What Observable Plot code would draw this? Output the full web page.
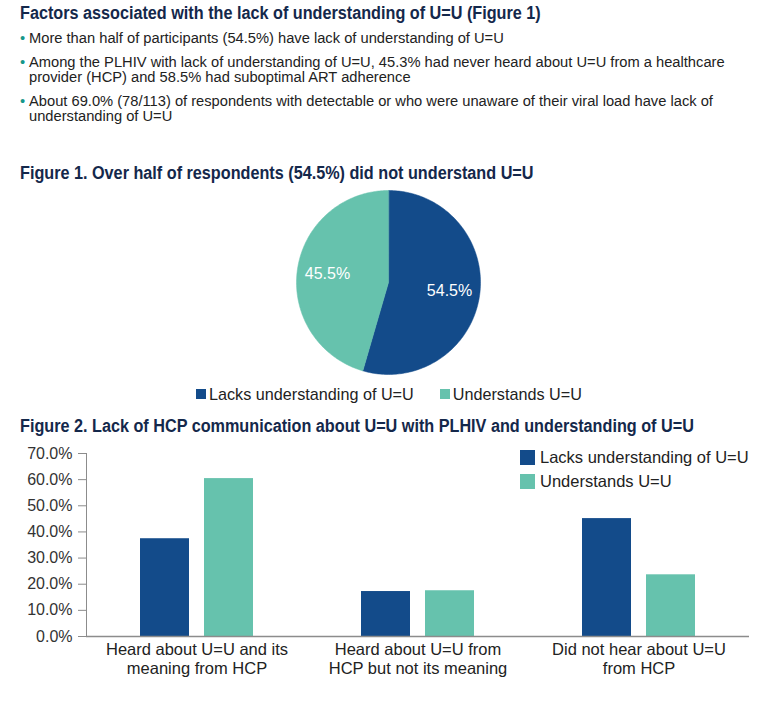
<!DOCTYPE html>
<html>
<head>
<meta charset="utf-8">
<script src="https://cdn.jsdelivr.net/npm/d3@7"></script>
<script src="https://cdn.jsdelivr.net/npm/@observablehq/plot@0.6"></script>
<style>
  html, body { margin: 0; padding: 0; background: #fff; }
  #root { position: relative; width: 780px; height: 705px; overflow: hidden; font-family: "Liberation Sans", Arial, sans-serif; }
  .title { position: absolute; left: 20px; font-weight: bold; color: #14284b; font-size: 18px; white-space: nowrap; line-height: 20px; transform: scaleX(0.9); transform-origin: 0 50%; }
  .bullets { position: absolute; left: 20px; top: 30.5px; width: 760px; color: #222; font-size: 14.7px; line-height: 15px; }
  .bullet { position: relative; padding-left: 9px; margin-bottom: 9px; white-space: pre; }
  .bullet::before { content: "•"; position: absolute; left: 0; top: 0; color: #16978a; }
  .abs { position: absolute; }
  .legend { position: absolute; font-size: 16.5px; color: #222; white-space: nowrap; display: flex; align-items: center; }
  .sw { display: inline-block; }
</style>
</head>
<body>
<div id="root">
  <div class="title" style="top:3px">Factors associated with the lack of understanding of U=U (Figure 1)</div>
  <div class="bullets" id="bullets"></div>
  <div class="title" style="top:163px">Figure 1. Over half of respondents (54.5%) did not understand U=U</div>
  <div class="abs" id="pie" style="left:287.5px; top:182px"></div>
  <div class="legend" id="pieLegend" style="left:196px; top:384px; height:20px; font-size:16.2px"></div>
  <div class="title" style="top:416px">Figure 2. Lack of HCP communication about U=U with PLHIV and understanding of U=U</div>
  <div class="abs" id="bars" style="left:0; top:440px"></div>
  <div class="legend" id="barLegend" style="left:520px; top:445px; flex-direction:column; align-items:flex-start"></div>
</div>
<script>
// ---------- data ----------
const bulletTexts = [
  "More than half of participants (54.5%) have lack of understanding of U=U",
  "Among the PLHIV with lack of understanding of U=U, 45.3% had never heard about U=U from a healthcare\nprovider (HCP) and 58.5% had suboptimal ART adherence",
  "About 69.0% (78/113) of respondents with detectable or who were unaware of their viral load have lack of\nunderstanding of U=U"
];
const series = ["Lacks understanding of U=U", "Understands U=U"];
const seriesColors = ["#134b8a", "#66c2ad"];
const pieValues = [54.5, 45.5];
const pieLabels = ["54.5%", "45.5%"];
const categories = [
  "Heard about U=U and its meaning from HCP",
  "Heard about U=U from HCP but not its meaning",
  "Did not hear about U=U from HCP"
];
const categoryTickLabels = [
  "Heard about U=U and its\nmeaning from HCP",
  "Heard about U=U from\nHCP but not its meaning",
  "Did not hear about U=U\nfrom HCP"
];
const lacksValues = [37.4, 17.2, 45.1];
const understandsValues = [60.4, 17.5, 23.6];
const yTicks = [0, 10, 20, 30, 40, 50, 60, 70];

// ---------- header bullets ----------
const bl = document.getElementById("bullets");
for (const t of bulletTexts) {
  const d = document.createElement("div");
  d.className = "bullet";
  d.textContent = t;
  bl.appendChild(d);
}

// ---------- legends ----------
function legendItem(label, color, size, gap) {
  const s = document.createElement("span");
  s.style.display = "inline-flex"; s.style.alignItems = "center";
  const sw = document.createElement("span");
  sw.className = "sw";
  sw.style.width = size + "px"; sw.style.height = size + "px"; sw.style.background = color;
  sw.style.marginRight = gap + "px";
  s.appendChild(sw);
  s.appendChild(document.createTextNode(label));
  return s;
}
const pl = document.getElementById("pieLegend");
series.forEach((s, i) => {
  const it = legendItem(s, seriesColors[i], 10, 3);
  if (i > 0) it.style.marginLeft = "26px";
  pl.appendChild(it);
});
const bl2 = document.getElementById("barLegend");
series.forEach((s, i) => {
  const it = legendItem(s, seriesColors[i], 15, 5);
  it.style.height = "24px";
  bl2.appendChild(it);
});

// ---------- pie ----------
const arcs = d3.pie().sort(null)(pieValues);
const piePts = [];
arcs.forEach((a, i) => {
  piePts.push({slice: series[i], x: 0, y: 0});
  const n = 180;
  for (let k = 0; k <= n; k++) {
    const ang = a.startAngle + (a.endAngle - a.startAngle) * k / n;
    piePts.push({slice: series[i], x: Math.sin(ang), y: Math.cos(ang)});
  }
});
const pieText = arcs.map((a, i) => {
  const m = (a.startAngle + a.endAngle) / 2;
  return {label: pieLabels[i], x: 0.67 * Math.sin(m), y: 0.67 * Math.cos(m)};
});
const pie = Plot.plot({
  width: 200, height: 200,
  margin: 8,
  x: {domain: [-1, 1], axis: null},
  y: {domain: [-1, 1], axis: null},
  color: {domain: series, range: seriesColors},
  marks: [
    Plot.line(piePts, {x: "x", y: "y", z: "slice", fill: "slice", stroke: "slice", strokeWidth: 0.5, curve: "linear-closed"}),
    Plot.text(pieText, {x: "x", y: "y", text: "label", fill: "white", fontSize: 16, fontFamily: "Liberation Sans, Arial, sans-serif"})
  ]
});
document.getElementById("pie").appendChild(pie);

// ---------- bars ----------
const barData = [];
categories.forEach((c, i) => {
  barData.push({category: c, series: series[0], value: lacksValues[i]});
  barData.push({category: c, series: series[1], value: understandsValues[i]});
});
const bars = Plot.plot({
  width: 780, height: 265,
  marginTop: 13, marginBottom: 69, marginLeft: 85, marginRight: 30,
  style: {fontFamily: "Liberation Sans, Arial, sans-serif", color: "#333", background: "transparent"},
  fx: {domain: categories, padding: 0, label: null},
  x: {domain: series, paddingInner: 0.233, paddingOuter: 0.835, axis: null},
  y: {domain: [0, 70], label: null},
  color: {domain: series, range: seriesColors},
  marks: [
    Plot.barY(barData, {fx: "category", x: "series", y: "value", fill: "series"}),
    Plot.ruleY([0], {stroke: "#8c8c8c", strokeWidth: 1.5}),
    Plot.frame({anchor: "left", facet: "super", stroke: "#8c8c8c"}),
    Plot.axisY({ticks: yTicks, tickSize: 8, tickPadding: 6, tickFormat: d => d.toFixed(1) + "%", fontSize: 16, stroke: "#8c8c8c", color: "#333", label: null}),
    Plot.axisFx({anchor: "bottom", tickSize: 0, tickPadding: 4, lineHeight: 1.2, fontSize: 16.5, fill: "#222", tickFormat: d => categoryTickLabels[categories.indexOf(d)], label: null})
  ]
});
document.getElementById("bars").appendChild(bars);
</script>
</body>
</html>
